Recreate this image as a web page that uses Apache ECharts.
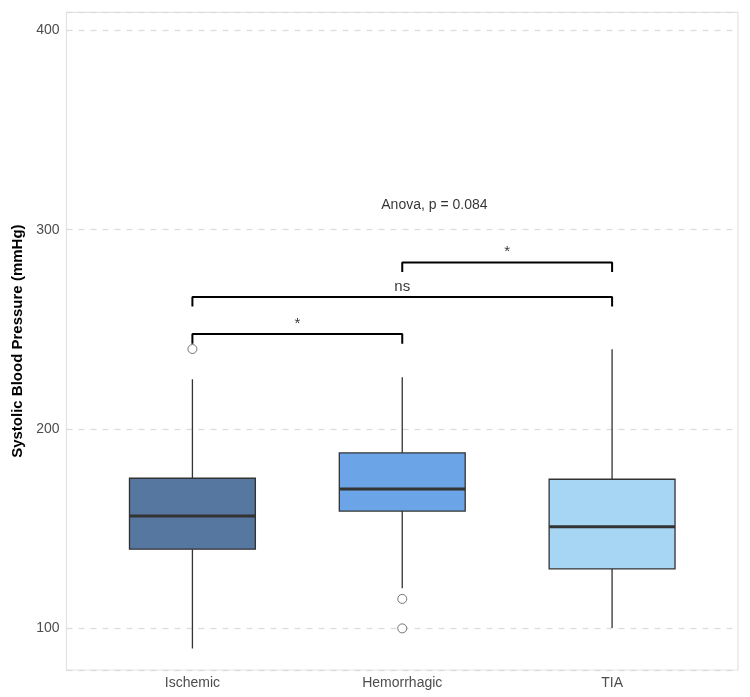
<!DOCTYPE html>
<html>
<head>
<meta charset="utf-8">
<script src="https://cdn.jsdelivr.net/npm/echarts@6/dist/echarts.min.js"></script>
<style>
  html, body { margin: 0; padding: 0; background: #fff; }
  #chart { width: 750px; height: 697px; }
</style>
</head>
<body>
<div id="chart"></div>
<script>
// data
const categories = ['Ischemic', 'Hemorrhagic', 'TIA']
// [lower whisker, Q1, median, Q3, upper whisker]
const boxStats = [
  [89.7, 139.6, 156.2, 175.2, 224.9],
  [119.9, 158.7, 169.8, 187.9, 225.9],
  [100.0, 129.7, 150.9, 174.7, 240.0]
]
const outliers = [
  [0, 240.1],
  [1, 114.6],
  [1, 99.8]
]
const boxColors = ['#5677A0', '#6CA5E7', '#A7D6F5']
// comparison brackets (x = group position 1..3)
const bracketFrom = [1, 1, 2]
const bracketTo = [2, 3, 3]
const bracketY = [247.6, 266.2, 283.6]
const bracketLabels = ['*', 'ns', '*']
const anovaLabel = 'Anova, p = 0.084'
const anovaPos = [1.9, 312.5]

const yMin = 78.9
const yMax = 409.2
const tipLen = 4.8

const chart = echarts.init(document.getElementById('chart'))

// ggplot-style box: no whisker caps, thick median
function renderBox(params, api) {
  const i = api.value(0)
  const lo = api.coord([i, api.value(1)])
  const q1 = api.coord([i, api.value(2)])
  const med = api.coord([i, api.value(3)])
  const q3 = api.coord([i, api.value(4)])
  const hi = api.coord([i, api.value(5)])
  const w = api.size([1, 0])[0] * 0.6
  const x = q1[0]
  const stroke = { stroke: '#333', lineWidth: 1.3 }
  return {
    type: 'group',
    children: [
      { type: 'line', shape: { x1: x, y1: hi[1], x2: x, y2: q3[1] }, style: stroke },
      { type: 'line', shape: { x1: x, y1: q1[1], x2: x, y2: lo[1] }, style: stroke },
      {
        type: 'rect',
        shape: { x: x - w / 2, y: q3[1], width: w, height: q1[1] - q3[1] },
        style: { fill: boxColors[params.dataIndex], stroke: '#333', lineWidth: 1.3 }
      },
      { type: 'line', shape: { x1: x - w / 2, y1: med[1], x2: x + w / 2, y2: med[1] }, style: { stroke: '#333', lineWidth: 3 } }
    ]
  }
}

const bracketSeries = bracketFrom.map((f, i) => ({
  type: 'line',
  xAxisIndex: 0,
  yAxisIndex: 0,
  symbol: 'none',
  silent: true,
  z: 5,
  lineStyle: { color: '#000', width: 2 },
  data: [
    [f, bracketY[i] - tipLen],
    [f, bracketY[i]],
    [bracketTo[i], bracketY[i]],
    [bracketTo[i], bracketY[i] - tipLen]
  ]
}))

const option = {
  animation: false,
  backgroundColor: '#fff',
  grid: [
    { left: 66.5, right: 12, top: 12.3, bottom: 27, show: true, borderColor: '#E3E3E3', borderWidth: 1.2 },
    { left: 87.5, right: 33, top: 12.3, bottom: 27 }
  ],
  xAxis: [
    { type: 'value', gridIndex: 0, min: 0.4, max: 3.6, show: false },
    {
      type: 'category', gridIndex: 1, data: categories,
      axisLine: { show: false }, axisTick: { show: false },
      axisLabel: { color: '#4D4D4D', fontSize: 14, fontFamily: 'Liberation Sans', margin: 6 }
    }
  ],
  yAxis: [
    {
      type: 'value', gridIndex: 0, min: yMin, max: yMax, splitNumber: 3,
      name: 'Systolic Blood Pressure (mmHg)',
      nameLocation: 'middle', nameGap: 41,
      nameTextStyle: { fontFamily: 'Liberation Sans', fontSize: 15, fontWeight: 'bold', color: '#000' },
      axisLine: { show: false }, axisTick: { show: false },
      axisLabel: {
        color: '#4D4D4D', fontSize: 14, fontFamily: 'Liberation Sans', margin: 7,
        showMinLabel: false, showMaxLabel: false
      },
      splitLine: { lineStyle: { color: '#DCDCDC', width: 1.3, type: [6, 6] } }
    },
    { type: 'value', gridIndex: 1, min: yMin, max: yMax, show: false, splitLine: { show: false } }
  ],
  series: [
    {
      type: 'custom',
      xAxisIndex: 1,
      yAxisIndex: 1,
      renderItem: renderBox,
      encode: { x: 0, y: [1, 2, 3, 4, 5] },
      data: boxStats.map((s, i) => [i, ...s])
    },
    {
      type: 'scatter',
      xAxisIndex: 1,
      yAxisIndex: 1,
      symbol: 'circle',
      symbolSize: 9,
      itemStyle: { color: '#fff', borderColor: '#555', borderWidth: 1 },
      z: 4,
      data: outliers
    },
    ...bracketSeries,
    {
      type: 'scatter',
      xAxisIndex: 0,
      yAxisIndex: 0,
      symbolSize: 0,
      silent: true,
      data: bracketFrom.map((f, i) => ({
        value: [(f + bracketTo[i]) / 2, bracketY[i]],
        label: {
          show: true, position: 'top', distance: 3,
          formatter: bracketLabels[i],
          color: '#000', fontSize: 15, fontFamily: 'Liberation Sans'
        }
      }))
    },
    {
      type: 'scatter',
      xAxisIndex: 0,
      yAxisIndex: 0,
      symbolSize: 0,
      silent: true,
      data: [{
        value: anovaPos,
        label: {
          show: true, position: 'right', distance: 0,
          formatter: anovaLabel,
          color: '#000', fontSize: 14, fontFamily: 'Liberation Sans'
        }
      }]
    }
  ]
}

chart.setOption(option)
</script>
</body>
</html>
